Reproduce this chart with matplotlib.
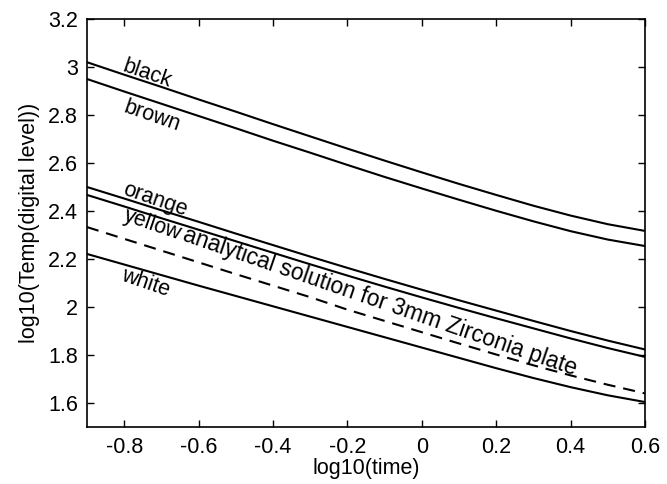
import numpy as np
import matplotlib.pyplot as plt

plt.rcParams['font.family'] = ['Liberation Sans', 'DejaVu Sans']

# log10(time)
log_time = [-0.9, -0.8, -0.7, -0.6, -0.5, -0.4, -0.3, -0.2, -0.1,
            0.0, 0.1, 0.2, 0.3, 0.4, 0.5, 0.6]

# log10(Temp) for each colour
black = [3.020, 2.968, 2.917, 2.865, 2.814, 2.762, 2.711, 2.660, 2.610,
         2.561, 2.513, 2.467, 2.422, 2.381, 2.345, 2.317]
brown = [2.950, 2.898, 2.847, 2.796, 2.745, 2.693, 2.643, 2.592, 2.542,
         2.494, 2.447, 2.401, 2.357, 2.316, 2.281, 2.254]
orange = [2.500, 2.452, 2.403, 2.355, 2.306, 2.258, 2.210, 2.163, 2.117,
          2.072, 2.028, 1.985, 1.942, 1.900, 1.860, 1.823]
yellow = [2.467, 2.419, 2.370, 2.322, 2.274, 2.226, 2.178, 2.131, 2.085,
          2.040, 1.996, 1.953, 1.911, 1.869, 1.829, 1.792]
analytical = [2.333, 2.284, 2.235, 2.186, 2.137, 2.089, 2.041, 1.989, 1.942,
              1.895, 1.848, 1.802, 1.757, 1.715, 1.676, 1.640]
white = [2.221, 2.177, 2.133, 2.089, 2.046, 2.003, 1.960, 1.917, 1.874,
         1.831, 1.788, 1.745, 1.704, 1.666, 1.632, 1.604]

# curve labels: text, position, size
labels = [
    ('black', -0.739, 2.971, 15.5),
    ('brown', -0.725, 2.796, 15.5),
    ('orange', -0.717, 2.446, 15.5),
    ('yellow', -0.723, 2.342, 15.5),
    ('analytical solution for 3mm Zirconia plate', -0.112, 2.021, 16.5),
    ('white', -0.744, 2.100, 15.5),
]

fig = plt.figure(figsize=(6.67, 4.84), dpi=100)
ax = fig.add_axes([0.1304, 0.1178, 0.8366, 0.8429])

for series in [black, brown, orange, yellow, white]:
    ax.plot(log_time, series, color='black', lw=1.5)
ax.plot(log_time, analytical, color='black', lw=1.5, dashes=(5.8, 3.8))

for txt, x, y, fs in labels:
    ax.text(x, y, txt, fontsize=fs, rotation=-19, rotation_mode='anchor',
            ha='center', va='center')

ax.set_xlim(-0.9, 0.6)
ax.set_ylim(1.5, 3.2)
ax.set_xticks([-0.8, -0.6, -0.4, -0.2, 0, 0.2, 0.4, 0.6])
ax.set_xticklabels(['-0.8', '-0.6', '-0.4', '-0.2', '0', '0.2', '0.4', '0.6'])
ax.set_yticks([1.6, 1.8, 2.0, 2.2, 2.4, 2.6, 2.8, 3.0, 3.2])
ax.set_yticklabels(['1.6', '1.8', '2', '2.2', '2.4', '2.6', '2.8', '3', '3.2'])
ax.tick_params(direction='in', top=True, right=True, length=5, width=1,
               labelsize=15.5)
ax.tick_params(axis='y', pad=6.5)
ax.tick_params(axis='x', pad=7)
for sp in ax.spines.values():
    sp.set_linewidth(1.2)

ax.set_xlabel('log10(time)', fontsize=15.5, labelpad=0)
ax.set_ylabel('log10(Temp(digital level))', fontsize=15.5, labelpad=6)

fig.savefig('out.png', dpi=100)
